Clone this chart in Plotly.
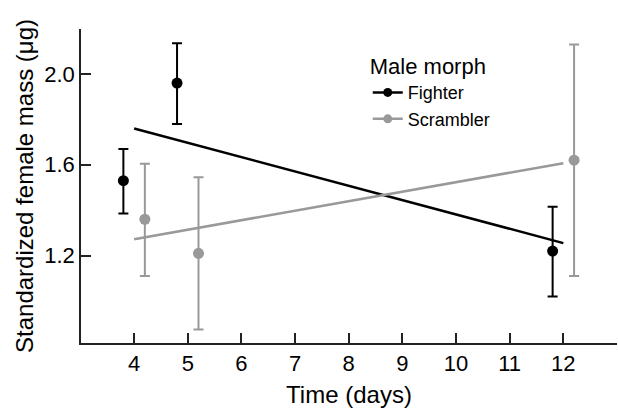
import plotly.graph_objects as go

# Data
fighter_x = [3.8, 4.8, 11.8]
fighter_y = [1.53, 1.96, 1.22]
fighter_hi = [1.67, 2.135, 1.415]
fighter_lo = [1.385, 1.78, 1.02]

scrambler_x = [4.2, 5.2, 12.2]
scrambler_y = [1.36, 1.21, 1.62]
scrambler_hi = [1.605, 1.545, 2.13]
scrambler_lo = [1.11, 0.875, 1.11]

fit_x = [4, 12]
fighter_fit = [1.76, 1.255]
scrambler_fit = [1.272, 1.607]

x_ticks = [4, 5, 6, 7, 8, 9, 10, 11, 12]
y_ticks = [1.2, 1.6, 2.0]
y_tick_labels = ["1.2", "1.6", "2.0"]

BLACK = "#000000"
GREY = "#999999"
FONT = "Liberation Sans, Arial, sans-serif"

fig = go.Figure()

for name, xs, ys, hi, lo, fit, col in [
    ("Fighter", fighter_x, fighter_y, fighter_hi, fighter_lo, fighter_fit, BLACK),
    ("Scrambler", scrambler_x, scrambler_y, scrambler_hi, scrambler_lo, scrambler_fit, GREY),
]:
    fig.add_trace(go.Scatter(
        x=fit_x, y=fit, mode="lines", line=dict(color=col, width=2.5),
        showlegend=False, hoverinfo="skip"))
    fig.add_trace(go.Scatter(
        x=xs, y=ys, mode="markers",
        marker=dict(color=col, size=11),
        error_y=dict(type="data", symmetric=False,
                     array=[h - y for h, y in zip(hi, ys)],
                     arrayminus=[y - l for y, l in zip(ys, lo)],
                     color=col, thickness=2, width=5),
        showlegend=False))
    fig.add_trace(go.Scatter(
        x=[None], y=[None], mode="lines+markers", name=name,
        line=dict(color=col, width=2.5), marker=dict(color=col, size=9)))

fig.update_layout(
    width=618, height=408,
    margin=dict(l=81, r=1, t=29, b=65),
    paper_bgcolor="white", plot_bgcolor="white",
    font=dict(family=FONT, color="#000000", size=21),
    legend=dict(
        x=0.535, y=0.947, xanchor="left", yanchor="top",
        title=dict(text="Male morph", font=dict(size=22)),
        font=dict(size=18), bgcolor="rgba(0,0,0,0)",
        tracegroupgap=0, itemwidth=30),
    xaxis=dict(
        range=[3.01, 13.0], tickvals=x_ticks, ticks="inside", ticklen=10,
        tickwidth=1.5, tickcolor="#222", showline=True, linecolor="#222",
        linewidth=1.5, showgrid=False, zeroline=False, automargin=False,
        tickfont=dict(size=22),
        title=dict(text="Time (days)", font=dict(size=24), standoff=12)),
    yaxis=dict(
        range=[0.815, 2.198], tickvals=y_ticks, ticktext=y_tick_labels,
        ticks="inside", ticklen=10, tickwidth=1.5, tickcolor="#222",
        showline=True, linecolor="#222", linewidth=1.5, showgrid=False,
        zeroline=False, automargin=False, tickfont=dict(size=22),
        title=dict(text="Standardized female mass (μg)", font=dict(size=24), standoff=4)),
)

fig.write_html(
    "out.html",
    config={"displayModeBar": False},
    post_script="document.body.style.margin='0';document.body.style.overflow='hidden';",
)
